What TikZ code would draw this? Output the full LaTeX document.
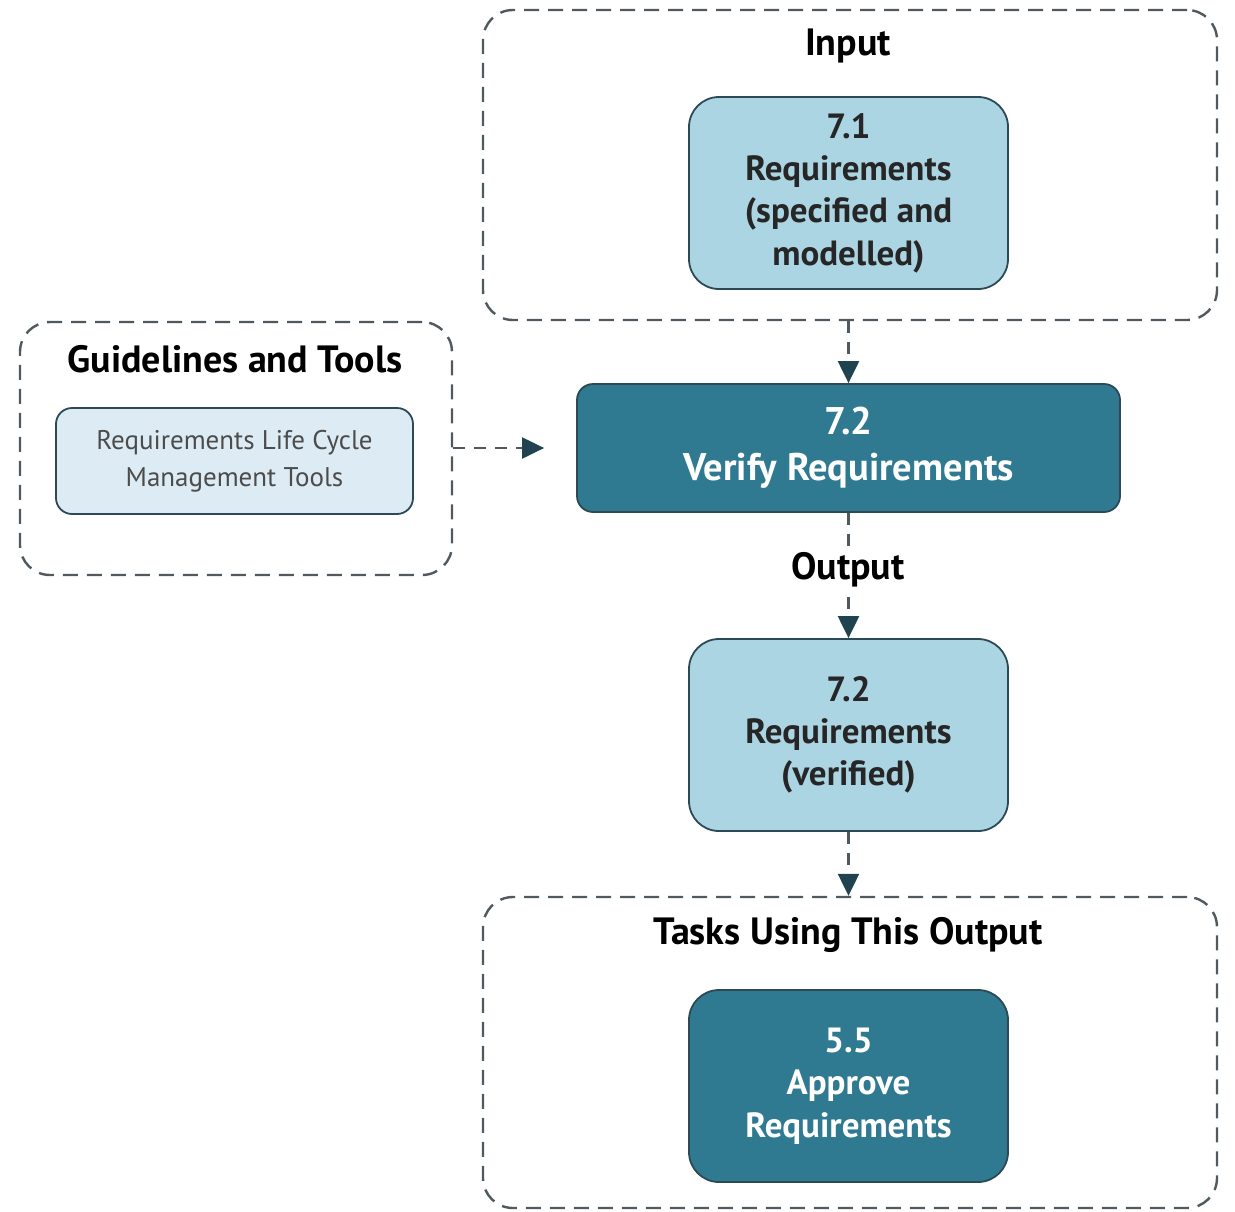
\documentclass[tikz,border=0pt]{standalone}
\usepackage{fontspec}
\setmainfont{PT Sans}
\usetikzlibrary{arrows.meta}

\definecolor{lightreq}{HTML}{ACD5E3}
\definecolor{paletool}{HTML}{DDECF4}
\definecolor{darktask}{HTML}{2F7A91}
\definecolor{boxline}{HTML}{2B4A55}
\definecolor{groupline}{HTML}{50595E}
\definecolor{tipcol}{HTML}{1F4450}

\tikzset{
    group/.style={draw=groupline, line width=2.4pt, dash pattern=on 15pt off 9pt,
        rounded corners=30pt},
    reqbox/.style={draw=boxline, line width=1.8pt, fill=lightreq, rounded corners=30pt,
        minimum width=319pt, minimum height=192pt, align=center,
        font=\fontsize{35}{42.3}\selectfont\bfseries, text=black!85},
    taskbox/.style={reqbox, fill=darktask, text=white},
    toolbox/.style={draw=boxline, line width=1.8pt, fill=paletool, rounded corners=16pt,
        minimum width=357pt, minimum height=106pt, align=center,
        font=\fontsize{27}{37}\selectfont, text=black!70},
    title/.style={font=\fontsize{38}{44}\selectfont\bfseries, text=black},
    flow/.style={draw=groupline, line width=2.2pt, dash pattern=on 12pt off 9pt,
        -{Triangle[length=22pt,width=21pt,color=tipcol]}},
}

\begin{document}
\begin{tikzpicture}[x=1pt, y=-1pt]

    \useasboundingbox (0,0) rectangle (1235,1211);

    % Input
    \node[group, minimum width=734pt, minimum height=310pt] (input) at (850,165) {};
    \node[title] (inputtitle) at (848,46) {Input};
    \node[reqbox] (req71) at (848.5,193) {7.1\\Requirements\\(specified and\\modelled)};

    % Guidelines and Tools
    \node[group, minimum width=432pt, minimum height=253pt] (guide) at (236,448.5) {};
    \node[title] (guidetitle) at (235,359) {Guidelines and Tools};
    \node[toolbox] (tools) at (234.5,461) {Requirements Life Cycle\\Management Tools};

    % Task in the middle
    \node[taskbox, rounded corners=16pt, minimum width=543pt, minimum height=128pt,
        font=\fontsize{38.5}{46}\selectfont\bfseries] (verify) at (848.5,448) {7.2\\Verify Requirements};

    % Output
    \node[reqbox] (req72) at (848.5,735) {7.2\\Requirements\\(verified)};

    % Tasks Using This Output
    \node[group, minimum width=734pt, minimum height=311pt] (tasks) at (850,1052.5) {};
    \node[title] (taskstitle) at (848,935) {Tasks Using This Output};
    \node[taskbox] (approve) at (848.5,1086) {5.5\\Approve\\Requirements};

    % connectors
    \draw[flow] (input.south -| verify.north) -- (verify.north);
    \draw[flow, shorten >=32pt] (guide.east |- verify.west) -- (verify.west);
    \draw[flow] (verify.south) -- (req72.north);
    \node[title, fill=white, inner sep=2pt] (outlabel) at (848,570) {Output};
    \draw[flow] (req72.south) -- (tasks.north -| req72.south);

\end{tikzpicture}
\end{document}
